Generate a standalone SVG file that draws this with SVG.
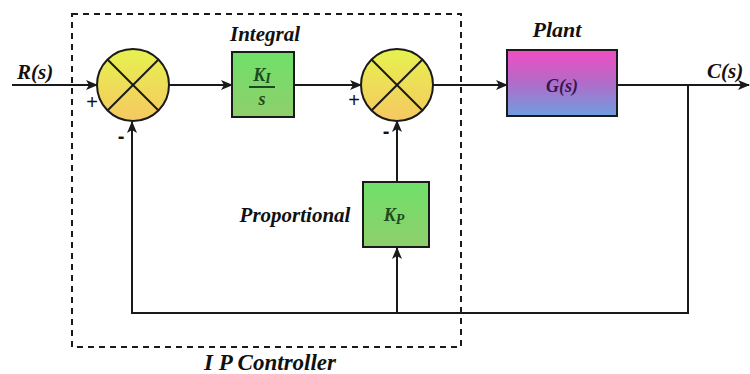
<svg xmlns="http://www.w3.org/2000/svg" width="750" height="374" viewBox="0 0 750 374">
<defs>
<linearGradient id="gSum" x1="0" y1="0" x2="0" y2="1"><stop offset="0" stop-color="#e6f24e"/><stop offset="1" stop-color="#f6c862"/></linearGradient>
<linearGradient id="gGreen" x1="0" y1="0" x2="0" y2="1"><stop offset="0" stop-color="#6fe06a"/><stop offset="1" stop-color="#8fcf6c"/></linearGradient>
<linearGradient id="gPlant" x1="0" y1="0" x2="0" y2="1"><stop offset="0" stop-color="#f24cc4"/><stop offset="0.5" stop-color="#b06cc8"/><stop offset="1" stop-color="#6e9ee0"/></linearGradient>
<marker id="arr" viewBox="0 0 12 10" refX="11" refY="5" markerWidth="12" markerHeight="10" markerUnits="userSpaceOnUse" orient="auto"><path d="M0,0 L12,5 L0,10 L3,5 Z" fill="#1a1a1a"/></marker>
<style>
.ln{fill:none;stroke:#1a1a1a;stroke-width:2}
.sum circle{fill:url(#gSum);stroke:#1a1a1a;stroke-width:2}
.sum line{stroke:#1a1a1a;stroke-width:2}
.blk{stroke:#1a1a1a;stroke-width:2}
.lbl{font-family:"Liberation Serif","DejaVu Serif",serif;font-weight:bold;font-style:italic;fill:#111}
.sg{font-family:"Liberation Sans",sans-serif;font-size:20px;fill:#111}
.gt{font-family:"Liberation Serif",serif;font-weight:bold;font-style:italic;fill:#1d4a1d}
</style>
</defs>
<rect x="72" y="14" width="389" height="333" fill="none" stroke="#1a1a1a" stroke-width="2" stroke-dasharray="6,5"/>
<text class="lbl" x="270" y="370" font-size="23" text-anchor="middle">I P Controller</text>
<g id="connectors">
<line class="ln" x1="12" y1="85" x2="97" y2="85" marker-end="url(#arr)"/>
<line class="ln" x1="169" y1="85" x2="232" y2="85" marker-end="url(#arr)"/>
<line class="ln" x1="294" y1="85" x2="361" y2="85" marker-end="url(#arr)"/>
<line class="ln" x1="433" y1="85" x2="507" y2="85" marker-end="url(#arr)"/>
<line class="ln" x1="617" y1="85" x2="749" y2="85" marker-end="url(#arr)"/>
<polyline class="ln" points="688,85 688,313 132,313 132,122" marker-end="url(#arr)"/>
<line class="ln" x1="397" y1="313" x2="397" y2="248" marker-end="url(#arr)"/>
<line class="ln" x1="397" y1="182" x2="397" y2="121" marker-end="url(#arr)"/>
</g>
<text class="lbl" x="17" y="79" font-size="21">R(s)</text>
<text class="lbl" x="707" y="78" font-size="21">C(s)</text>
<g id="sum1" class="sum">
<circle cx="133" cy="85" r="36"/>
<line x1="107.5" y1="59.5" x2="158.5" y2="110.5"/>
<line x1="158.5" y1="59.5" x2="107.5" y2="110.5"/>
<text class="sg" x="92" y="109" text-anchor="middle">+</text>
<text class="sg" x="121" y="143" text-anchor="middle" font-weight="bold">-</text>
</g>
<g id="integral">
<text class="lbl" x="265" y="41" font-size="21" text-anchor="middle">Integral</text>
<rect class="blk" x="232" y="52" width="62" height="65" fill="url(#gGreen)"/>
<text class="gt" x="262" y="81" font-size="18" text-anchor="middle">K<tspan font-size="14" dy="2">I</tspan></text>
<line x1="249" y1="87" x2="275" y2="87" stroke="#1d4a1d" stroke-width="2"/>
<text class="gt" x="262" y="105" font-size="18" text-anchor="middle">s</text>
</g>
<g id="sum2" class="sum">
<circle cx="397" cy="85" r="36"/>
<line x1="371.5" y1="59.5" x2="422.5" y2="110.5"/>
<line x1="422.5" y1="59.5" x2="371.5" y2="110.5"/>
<text class="sg" x="354" y="107" text-anchor="middle">+</text>
<text class="sg" x="386" y="138" text-anchor="middle" font-weight="bold">-</text>
</g>
<g id="plant">
<text class="lbl" x="557" y="37" font-size="22" text-anchor="middle">Plant</text>
<rect class="blk" x="507" y="50" width="110" height="66" fill="url(#gPlant)"/>
<text x="562" y="92" font-size="18" text-anchor="middle" font-family="Liberation Serif, serif" font-weight="bold" font-style="italic" fill="#3a1650">G(s)</text>
</g>
<g id="proportional">
<text class="lbl" x="295" y="222" font-size="21" text-anchor="middle">Proportional</text>
<rect class="blk" x="363" y="182" width="66" height="65" fill="url(#gGreen)"/>
<text class="gt" x="394" y="221" font-size="18" text-anchor="middle">K<tspan font-size="14" dy="3">P</tspan></text>
</g>
</svg>
